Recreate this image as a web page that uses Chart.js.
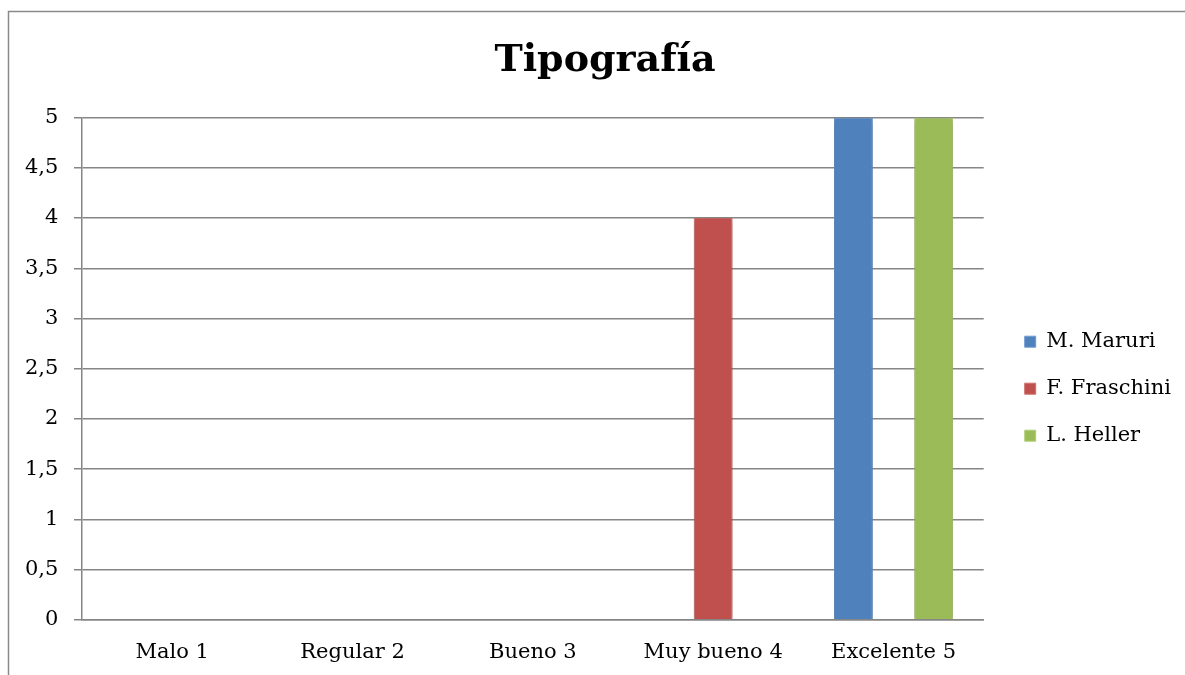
<!DOCTYPE html>
<html>
<head>
<meta charset="utf-8">
<script src="https://cdn.jsdelivr.net/npm/chart.js@4"></script>
<style>
  html, body { margin: 0; padding: 0; background: #fff; }
  #wrap { width: 1185px; height: 675px; }
</style>
</head>
<body>
<div id="wrap"><canvas id="graficoTipografia" width="1185" height="675"></canvas></div>
<script>
const categorias = ["Malo 1", "Regular 2", "Bueno 3", "Muy bueno 4", "Excelente 5"];
const maruri    = [0, 0, 0, 0, 5];
const fraschini = [0, 0, 0, 4, 0];
const heller    = [0, 0, 0, 0, 5];

const fonte = "'DejaVu Serif', serif";

// marco del gráfico (borde superior e izquierdo)
const marco = {
  id: "marco",
  beforeDraw(chart){
    const ctx = chart.ctx;
    ctx.save();
    ctx.strokeStyle = "#8a8a8a";
    ctx.lineWidth = 1.5;
    ctx.beginPath();
    ctx.moveTo(8.5, chart.height);
    ctx.lineTo(8.5, 11.5);
    ctx.lineTo(chart.width, 11.5);
    ctx.stroke();
    ctx.restore();
  }
};

// sombra suave de las barras
const sombra = {
  id: "sombra",
  beforeDatasetsDraw(chart){
    const ctx = chart.ctx;
    ctx.save();
    ctx.shadowColor = "rgba(0,0,0,0.35)";
    ctx.shadowBlur = 7;
    ctx.shadowOffsetX = 0;
    ctx.shadowOffsetY = 1;
  },
  afterDatasetsDraw(chart){
    chart.ctx.restore();
  }
};

new Chart(document.getElementById("graficoTipografia"), {
  type: "bar",
  data: {
    labels: categorias,
    datasets: [
      { label: "M. Maruri",    data: maruri,    backgroundColor: "#4F81BD", borderColor: "#6f9bd0", borderWidth: 1 },
      { label: "F. Fraschini", data: fraschini, backgroundColor: "#C0504D", borderColor: "#d06f6c", borderWidth: 1 },
      { label: "L. Heller",    data: heller,    backgroundColor: "#9BBB59", borderColor: "#b3cf78", borderWidth: 1 }
    ]
  },
  plugins: [marco, sombra],
  options: {
    responsive: false,
    animation: false,
    events: [],
    layout: { padding: { left: 29, right: 4, top: 31, bottom: -2 } },
    datasets: {
      bar: { categoryPercentage: 0.667, barPercentage: 0.97 }
    },
    plugins: {
      title: {
        display: true,
        text: "Tipografía",
        color: "#000",
        font: { family: fonte, size: 38, weight: "bold" },
        padding: { top: 7, bottom: 34 }
      },
      legend: {
        position: "right",
        fullSize: false,
        title: { display: true, text: " ", font: { family: fonte, size: 20 }, padding: 8 },
        labels: {
          color: "#000",
          font: { family: fonte, size: 21 },
          boxWidth: 11,
          boxHeight: 11,
          padding: 26
        }
      },
      tooltip: { enabled: false }
    },
    scales: {
      x: {
        grid: { display: false },
        border: { display: true, color: "#868686", width: 1.5 },
        ticks: { color: "#000", font: { family: fonte, size: 21 }, padding: 12, maxRotation: 0 }
      },
      y: {
        min: 0,
        max: 5,
        afterFit(s){ s.width = 53; },
        grid: { color: "#868686", lineWidth: 1.5, tickLength: 8 },
        border: { display: true, color: "#868686", width: 1.5 },
        ticks: {
          stepSize: 0.5,
          color: "#000",
          font: { family: fonte, size: 21 },
          // etiquetas alineadas a la derecha, 24px a la izquierda del eje
          mirror: true,
          crossAlign: "far",
          padding: -57,
          callback: v => String(v).replace(".", ",")
        }
      },
      // eje vacío a la derecha: solo deja aire entre el área y la leyenda
      yEspacio: {
        position: "right",
        display: true,
        afterFit(s){ s.width = 15; },
        grid: { display: false },
        border: { display: false },
        ticks: { display: false }
      }
    }
  }
});
</script>
</body>
</html>
